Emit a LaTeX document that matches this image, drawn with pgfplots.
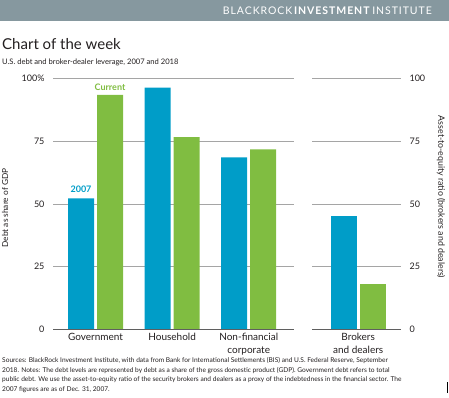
\documentclass[border=0pt]{standalone}
\usepackage{pgfplots}
\pgfplotsset{compat=1.18}
\usepackage{fontspec}
\setmainfont{Lato}
\newfontfamily\headfont[LetterSpace=9]{Lato}
\definecolor{cblue}{RGB}{0,157,200}
\definecolor{cgreen}{RGB}{128,189,65}
\definecolor{band}{RGB}{134,152,159}
\definecolor{gridc}{RGB}{165,165,165}
\definecolor{basec}{RGB}{95,95,95}
\definecolor{txt}{RGB}{35,31,32}
\pgfplotsset{
  mystyle/.style={
    scale only axis, height=250.7pt, ymin=0, ymax=100,
    ybar=3pt, bar width=26pt,
    axis line style={draw=none}, major tick length=0pt,
    ytick={0,25,50,75,100},
    ymajorgrids, grid style={gridc, line width=0.8pt},
    xticklabel style={align=center, font=\fontsize{10}{13}\selectfont, text=txt},
    yticklabel style={font=\fontsize{9}{10}\selectfont, text=txt},
    /pgf/number format/assume math mode=true,
    clip=false,
  }
}
\begin{document}
\begin{tikzpicture}
\useasboundingbox (0pt,0pt) rectangle (449pt,398pt);
\fill[band] (0pt,398pt) rectangle (449pt,377pt);
\node[anchor=east, text=white, font=\headfont\fontsize{10.5}{12}\selectfont, inner sep=0] at (432pt,387.5pt) {BLACKROCK\,\textbf{INVESTMENT}\,INSTITUTE};
\node[anchor=base west, text=txt, font=\fontsize{15}{18}\selectfont, inner sep=0] at (2pt,348pt) {Chart of the week};
\node[anchor=base west, text=txt, font=\fontsize{7.6}{10}\selectfont, inner sep=0] at (2pt,333pt) {U.S. debt and broker-dealer leverage, 2007 and 2018};

\begin{axis}[mystyle, at={(53pt,68.7pt)}, anchor=south west, width=241pt,
  xmin=-0.555, xmax=2.591,
  xtick={0,1,2}, xticklabels={Government,Household,Non-financial\\corporate},
  yticklabels={0,25,50,75,100\%},
  yticklabel style={anchor=east, xshift=-5pt}]
\addplot[fill=cblue, draw=none] coordinates {(0,52.2) (1,96.4) (2,68.6)};
\addplot[fill=cgreen, draw=none] coordinates {(0,93.5) (1,76.7) (2,71.8)};
\draw[basec, line width=1.4pt] (rel axis cs:0,0) -- (rel axis cs:1,0);
\node[anchor=south, text=cblue, font=\bfseries\fontsize{9}{10}\selectfont, xshift=-14.5pt, yshift=2pt] at (axis cs:0,52.2) {2007};
\node[anchor=south, text=cgreen, font=\bfseries\fontsize{9}{10}\selectfont, xshift=14.5pt, yshift=1pt] at (axis cs:0,93.5) {Current};
\end{axis}

\begin{axis}[mystyle, at={(312pt,68.7pt)}, anchor=south west, width=89pt,
  xmin=-0.603, xmax=0.559,
  xtick={0}, xticklabels={Brokers\\and dealers},
  yticklabel pos=right,
  yticklabels={0,25,50,75,100},
  yticklabel style={anchor=west, xshift=5pt}]
\addplot[fill=cblue, draw=none] coordinates {(0,45.2)};
\addplot[fill=cgreen, draw=none] coordinates {(0,17.9)};
\draw[basec, line width=1.4pt] (rel axis cs:0,0) -- (rel axis cs:1,0);
\end{axis}

\node[rotate=90, text=txt, font=\fontsize{8.3}{10}\selectfont] at (5pt,190pt) {Debt as share of GDP};
\node[rotate=-90, text=txt, font=\fontsize{8.8}{10}\selectfont] at (441pt,201pt) {Asset-to-equity ratio (brokers and dealers)};

\node[anchor=north west, align=left, text=txt, font=\fontsize{6.6}{9.4}\selectfont, inner sep=0] at (2pt,40.5pt) {Sources: BlackRock Investment Institute, with data from Bank for International Settlements (BIS) and U.S. Federal Reserve, September\\2018. Notes: The debt levels are represented by debt as a share of the gross domestic product (GDP). Government debt refers to total\\public debt. We use the asset-to-equity ratio of the security brokers and dealers as a proxy of the indebtedness in the financial sector. The\\2007 figures are as of Dec. 31, 2007.};
\fill[black] (446.5pt,5pt) rectangle (448pt,16pt);
\end{tikzpicture}
\end{document}
